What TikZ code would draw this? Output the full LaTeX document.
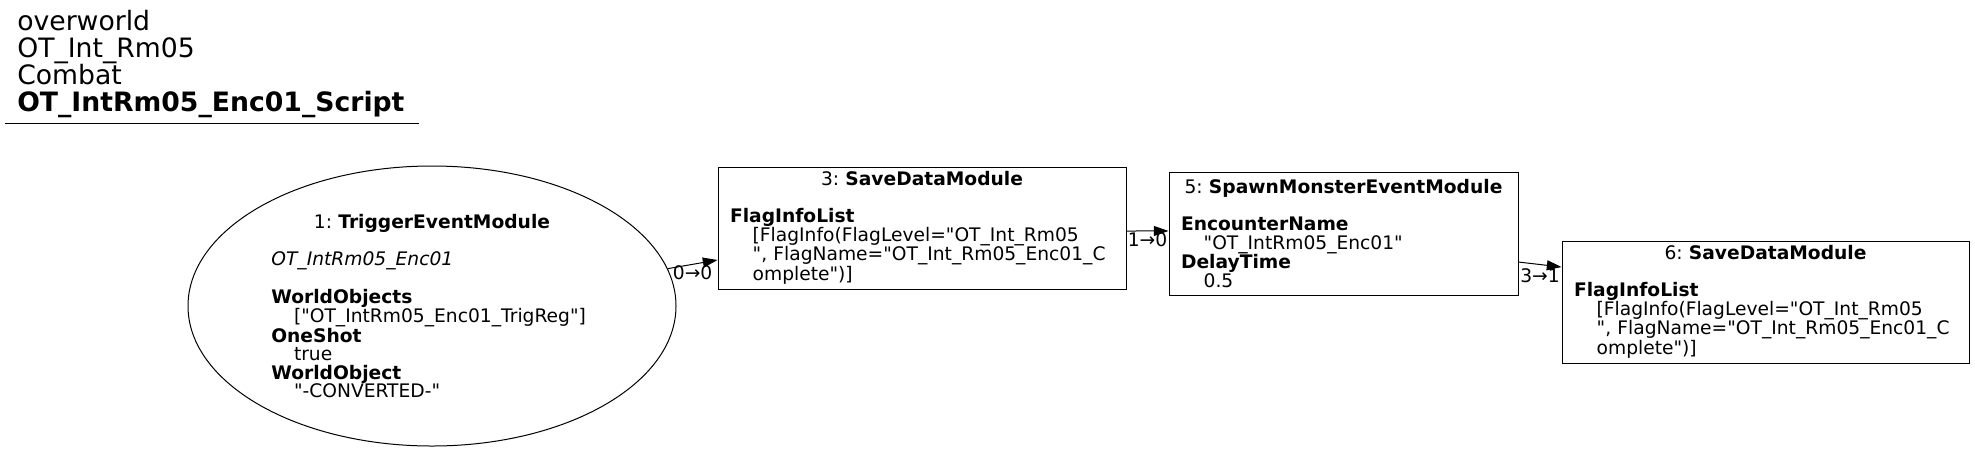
\documentclass[tikz,border=0pt]{standalone}
\usepackage{fontspec}
\setmainfont{DejaVu Sans}[Ligatures=TeXOff]
\frenchspacing
\usetikzlibrary{arrows.meta,shapes.geometric}
\newcommand{\modhead}[1]{\makebox[\hsize]{#1}}
\newcommand{\modind}{\hspace*{17pt}}
\tikzset{
  module/.style={draw,line width=0.75pt,inner xsep=9pt,inner ysep=0pt,align=left,font=\fontsize{14pt}{13.9pt}\selectfont},
  modbox/.style={module,rectangle,minimum height=91.5pt},
  modtrigger/.style={module,ellipse,inner sep=0pt,minimum width=366pt,minimum height=210pt,text width=241pt},
  flow/.style={line width=0.75pt,-{Triangle[length=11pt,width=7.5pt]}},
  portlabel/.style={font=\fontsize{14pt}{14pt}\selectfont,inner sep=0.5pt}
}
\begin{document}
\begin{tikzpicture}[x=0.75pt,y=-0.75pt]
  \useasboundingbox (0,0) rectangle (1975,451);
  \node[anchor=north west,inner sep=0pt,align=left,font=\fontsize{20pt}{19.9pt}\selectfont] (title) at (17,10)
    {overworld\\OT\_Int\_Rm05\\Combat\\\textbf{OT\_IntRm05\_Enc01\_Script}};
  \draw[line width=0.75pt] (5,123) -- (419,123);

  \node[modtrigger] (trig1) at (432,306)
    {\modhead{1: \textbf{TriggerEventModule}}\\[13.9pt]\textit{OT\_IntRm05\_Enc01}\\[13.9pt]\textbf{WorldObjects}\\\modind["OT\_IntRm05\_Enc01\_TrigReg"]\\\textbf{OneShot}\\\modind true\\\textbf{WorldObject}\\\modind"-CONVERTED-"};
  \node[modbox,text width=288pt] (save3) at (922,228)
    {\modhead{3: \textbf{SaveDataModule}}\\[13.9pt]\textbf{FlagInfoList}\\\modind[FlagInfo(FlagLevel="OT\_Int\_Rm05\\\modind", FlagName="OT\_Int\_Rm05\_Enc01\_C\\\modind omplete")]};
  \node[modbox,text width=243.75pt,minimum height=92.25pt] (spawn5) at (1343.5,233.5)
    {\modhead{5: \textbf{SpawnMonsterEventModule}}\\[13.9pt]\textbf{EncounterName}\\\modind"OT\_IntRm05\_Enc01"\\\textbf{DelayTime}\\\modind 0.5};
  \node[modbox,text width=287.25pt] (save6) at (1765.5,302)
    {\modhead{6: \textbf{SaveDataModule}}\\[13.9pt]\textbf{FlagInfoList}\\\modind[FlagInfo(FlagLevel="OT\_Int\_Rm05\\\modind", FlagName="OT\_Int\_Rm05\_Enc01\_C\\\modind omplete")]};

  \draw[flow] (trig1.9) -- node[portlabel,below] (l13) {0→0} ([yshift=-24pt]save3.west);
  \draw[flow] ([yshift=-2.25pt]save3.east) -- node[portlabel,below] (l35) {1→0} ([yshift=1.9pt]spawn5.west);
  \draw[flow] ([yshift=-21.4pt]spawn5.east) -- node[portlabel,below,yshift=-2pt] (l56) {3→1} ([yshift=26.25pt]save6.west);
\end{tikzpicture}
\end{document}
